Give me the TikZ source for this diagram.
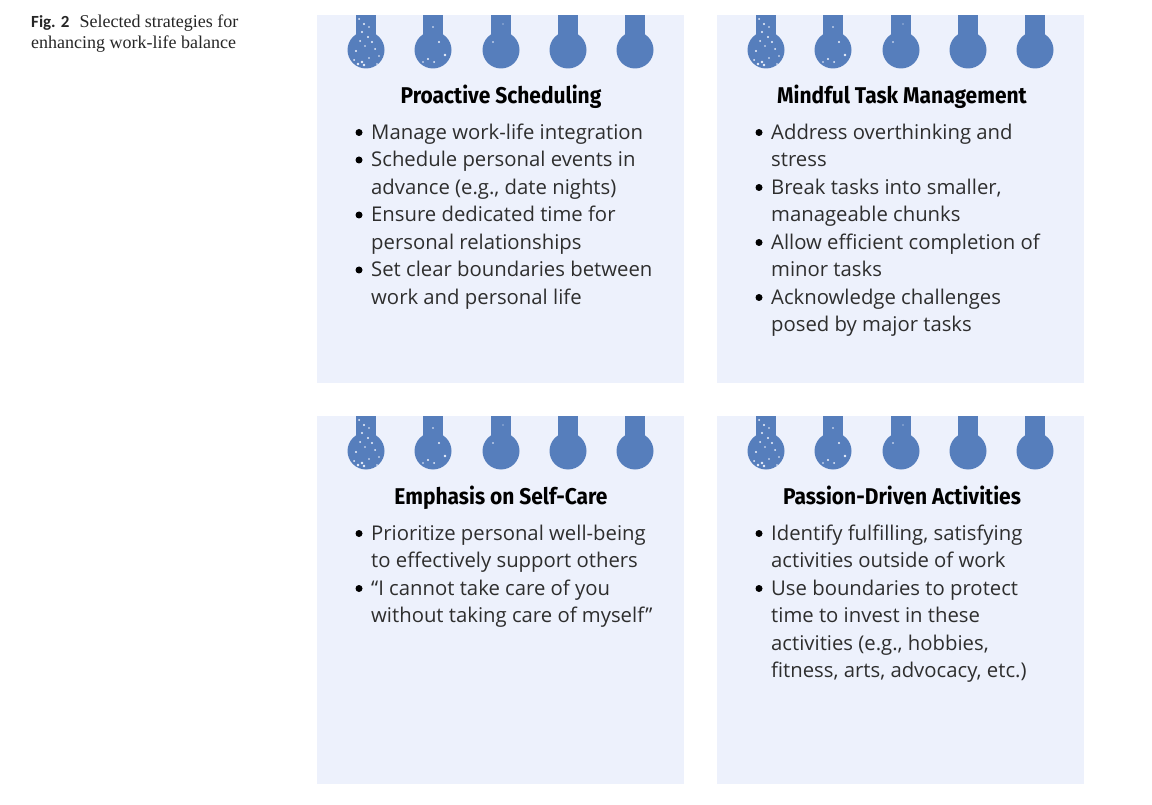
\documentclass[tikz,border=0pt]{standalone}
\usepackage{fontspec}
\setmainfont{Liberation Serif}
\newfontfamily\bodyfont{Open Sans}
\newfontfamily\titlefont{Fira Sans}
\newfontfamily\capfont{Carlito}
\definecolor{panelc}{HTML}{EDF1FC}
\definecolor{pinc}{HTML}{567EBC}
\definecolor{textc}{HTML}{2E2E2E}
\tikzset{
  panelbox/.style={fill=panelc,draw=none},
  pinc fill/.style={fill=pinc,draw=none},
  speck/.style={fill=panelc,draw=none},
  headtext/.style={inner sep=0pt,anchor=base,transform shape,xscale=0.92,font=\titlefont\bfseries\fontsize{22.8}{24}\selectfont,text=black},
  listtext/.style={inner sep=0pt,anchor=north west,align=left,text=textc,font=\bodyfont\fontsize{20.3}{27.45}\selectfont},
  bulletdot/.style={circle,fill=black,draw=none,minimum size=7pt,inner sep=0pt},
  captiontext/.style={inner sep=0pt,anchor=base west,text=black!85,font=\fontsize{18}{20}\selectfont}
}
\newcommand{\notepanel}[3]{% name, left x, top y
  \fill[panelbox] (#2,-#3) rectangle ++(367,-368);
  \foreach \dx in {49,116,184,251,318}{
    \fill[pinc fill] ({#2+\dx-10},-#3) rectangle ({#2+\dx+10},{-#3-28});
    \fill[pinc fill] ({#2+\dx},{-#3-35}) circle (18.5);
  }
  \foreach \sx/\sy/\sr in {42/4/1,47/9/1.2,52/12/.9,45/17/1.1,51/22/1.2,43/26/1,55/27/1.1,48/31/.8,39/36/1.2,58/34/1,62/41/.9,52/43/.8,37/45/1,45/47/1.3,60/49/.9,41/49/1.4,47/50/1.3,116/12/.9,122/27/1.1,111/44/1.2,117/47/1,128/40/1.3,106/47/.9,186/9/.7,176/27/.9}{
    \fill[speck] ({#2+\sx},{-#3-\sy}) circle (\sr);
  }
}
\newcommand{\bitem}[4]{% name, x, first baseline y, text
  \node[bulletdot] (#1b) at ({#2},{-#3+6.5}) {};
  \node[listtext] (#1) at ({#2+12},{-#3+21}) {\rule{0pt}{21pt}#4};
}
\begin{document}
\begin{tikzpicture}[x=1pt,y=1pt]
\useasboundingbox (0,0) rectangle (1152,-805);
\fill[white] (0,0) rectangle (1152,-805);
\node[captiontext] (capa) at (31,-28) {{\capfont\bfseries\fontsize{17}{20}\selectfont Fig. 2}\hspace{10pt}Selected strategies for};
\node[captiontext] (capb) at (31,-49) {enhancing work-life balance};
\notepanel{p1}{317}{15}
\notepanel{p2}{717}{15}
\notepanel{p3}{317}{416}
\notepanel{p4}{717}{416}
\node[headtext] (t1) at (501,-104) {Proactive Scheduling};
\node[headtext] (t2) at (902,-104) {Mindful Task Management};
\node[headtext] (t3) at (501,-504) {Emphasis on Self-Care};
\node[headtext] (t4) at (902,-504) {Passion-Driven Activities};
\bitem{a1}{359}{139}{Manage work-life integration}
\bitem{a2}{359}{166.5}{Schedule personal events in\\advance (e.g., date nights)}
\bitem{a3}{359}{221.5}{Ensure dedicated time for\\personal relationships}
\bitem{a4}{359}{276.5}{Set clear boundaries between\\work and personal life}
\bitem{b1}{759}{139}{Address overthinking and\\stress}
\bitem{b2}{759}{194}{Break tasks into smaller,\\manageable chunks}
\bitem{b3}{759}{249}{Allow efficient completion of\\minor tasks}
\bitem{b4}{759}{304}{Acknowledge challenges\\posed by major tasks}
\bitem{c1}{359}{540}{Prioritize personal well-being\\to effectively support others}
\bitem{c2}{359}{595}{“I cannot take care of you\\without taking care of myself”}
\bitem{d1}{759}{540}{Identify fulfilling, satisfying\\activities outside of work}
\bitem{d2}{759}{595}{Use boundaries to protect\\time to invest in these\\activities (e.g., hobbies,\\fitness, arts, advocacy, etc.)}
\end{tikzpicture}
\end{document}
